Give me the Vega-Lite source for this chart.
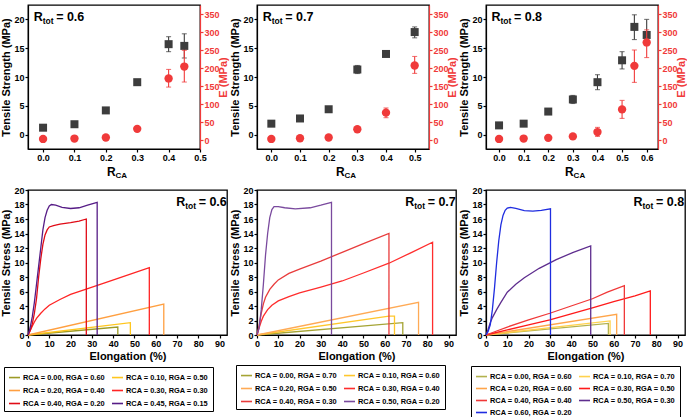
{
  "$schema": "https://vega.github.io/schema/vega-lite/v6.json",
  "background": "white",
  "padding": {"left": 0, "top": 4, "right": 0, "bottom": 0},
  "spacing": 4,
  "config": {
    "font": "Liberation Sans",
    "view": {"stroke": "black", "strokeWidth": 1.3},
    "axis": {
      "grid": false, "domainColor": "black", "domainWidth": 1.2,
      "tickColor": "black", "tickWidth": 1.2, "tickSize": 3,
      "labelFont": "Liberation Sans", "labelFontSize": 9, "labelFontWeight": "bold", "labelColor": "black", "labelPadding": 1,
      "labelFlush": false, "labelOverlap": false,
      "titleFont": "Liberation Sans", "titleFontSize": 11, "titleFontWeight": "bold", "titleColor": "black", "titlePadding": 2
    },
    "text": {"font": "Liberation Sans", "fontWeight": "bold", "color": "black"},
    "legend": {
      "labelFont": "Liberation Sans", "labelFontSize": 7.4, "labelFontWeight": "bold", "labelColor": "black",
      "symbolType": "stroke", "symbolSize": 121, "symbolStrokeWidth": 1.6,
      "strokeColor": "black", "padding": 4, "columnPadding": 2, "rowPadding": 3, "labelOffset": 2, "labelLimit": 0
    }
  },
  "datasets": {
    "m06": [
      {"rca": 0, "ts": 1.2, "tsLo": 1.0, "tsHi": 1.4, "e": 3, "eLo": 1, "eHi": 5},
      {"rca": 0.1, "ts": 1.8, "tsLo": 1.6, "tsHi": 2.0, "e": 4, "eLo": 2, "eHi": 6},
      {"rca": 0.2, "ts": 4.2, "tsLo": 4.0, "tsHi": 4.4, "e": 7, "eLo": 5, "eHi": 9},
      {"rca": 0.3, "ts": 9.1, "tsLo": 8.9, "tsHi": 9.3, "e": 31, "eLo": 28, "eHi": 34},
      {"rca": 0.4, "ts": 15.7, "tsLo": 14.4, "tsHi": 17.0, "e": 171, "eLo": 147, "eHi": 196},
      {"rca": 0.45, "ts": 15.4, "tsLo": 13.3, "tsHi": 17.5, "e": 204, "eLo": 161, "eHi": 249}
    ],
    "m07": [
      {"rca": 0, "ts": 1.9, "tsLo": 1.7, "tsHi": 2.1, "e": 3, "eLo": 1, "eHi": 5},
      {"rca": 0.1, "ts": 2.8, "tsLo": 2.6, "tsHi": 3.0, "e": 5, "eLo": 3, "eHi": 7},
      {"rca": 0.2, "ts": 4.4, "tsLo": 4.2, "tsHi": 4.6, "e": 7, "eLo": 5, "eHi": 9},
      {"rca": 0.3, "ts": 11.3, "tsLo": 10.6, "tsHi": 12.0, "e": 30, "eLo": 27, "eHi": 33},
      {"rca": 0.4, "ts": 14.0, "tsLo": 13.6, "tsHi": 14.5, "e": 76, "eLo": 62, "eHi": 89},
      {"rca": 0.5, "ts": 17.8, "tsLo": 16.8, "tsHi": 18.7, "e": 207, "eLo": 185, "eHi": 232}
    ],
    "m08": [
      {"rca": 0, "ts": 1.6, "tsLo": 1.4, "tsHi": 1.8, "e": 3, "eLo": 1, "eHi": 5},
      {"rca": 0.1, "ts": 1.9, "tsLo": 1.6, "tsHi": 2.2, "e": 4, "eLo": 2, "eHi": 6},
      {"rca": 0.2, "ts": 4.0, "tsLo": 3.8, "tsHi": 4.2, "e": 6, "eLo": 4, "eHi": 8},
      {"rca": 0.3, "ts": 6.1, "tsLo": 5.4, "tsHi": 6.8, "e": 10, "eLo": 5, "eHi": 15},
      {"rca": 0.4, "ts": 9.1, "tsLo": 7.8, "tsHi": 10.4, "e": 22, "eLo": 10, "eHi": 35},
      {"rca": 0.5, "ts": 12.9, "tsLo": 11.4, "tsHi": 14.4, "e": 85, "eLo": 60, "eHi": 110},
      {"rca": 0.55, "ts": 18.7, "tsLo": 16.5, "tsHi": 20.8, "e": 206, "eLo": 160, "eHi": 250},
      {"rca": 0.6, "ts": 17.3, "tsLo": 15.6, "tsHi": 20.0, "e": 271, "eLo": 229, "eHi": 306}
    ],
    "s06": [
      {"series": "0.00/0.60", "strain": 0, "stress": 0}, {"series": "0.00/0.60", "strain": 42.2, "stress": 1.1}, {"series": "0.00/0.60", "strain": 42.2, "stress": 0},
      {"series": "0.10/0.50", "strain": 0, "stress": 0}, {"series": "0.10/0.50", "strain": 48.1, "stress": 1.7}, {"series": "0.10/0.50", "strain": 48.1, "stress": 0},
      {"series": "0.20/0.40", "strain": 0, "stress": 0}, {"series": "0.20/0.40", "strain": 63.8, "stress": 4.25}, {"series": "0.20/0.40", "strain": 63.8, "stress": 0},
      {"series": "0.30/0.30", "strain": 0, "stress": 0}, {"series": "0.30/0.30", "strain": 1, "stress": 0.6}, {"series": "0.30/0.30", "strain": 2, "stress": 1.2},
      {"series": "0.30/0.30", "strain": 3, "stress": 1.8}, {"series": "0.30/0.30", "strain": 4, "stress": 2.3}, {"series": "0.30/0.30", "strain": 6, "stress": 3.0},
      {"series": "0.30/0.30", "strain": 8, "stress": 3.6}, {"series": "0.30/0.30", "strain": 10, "stress": 4.1}, {"series": "0.30/0.30", "strain": 15, "stress": 4.9},
      {"series": "0.30/0.30", "strain": 20, "stress": 5.6}, {"series": "0.30/0.30", "strain": 27, "stress": 6.3}, {"series": "0.30/0.30", "strain": 35, "stress": 7.1},
      {"series": "0.30/0.30", "strain": 45, "stress": 8.1}, {"series": "0.30/0.30", "strain": 57, "stress": 9.3}, {"series": "0.30/0.30", "strain": 57, "stress": 0},
      {"series": "0.40/0.20", "strain": 0, "stress": 0}, {"series": "0.40/0.20", "strain": 1, "stress": 0.6}, {"series": "0.40/0.20", "strain": 2, "stress": 1.5},
      {"series": "0.40/0.20", "strain": 3, "stress": 3.0}, {"series": "0.40/0.20", "strain": 4, "stress": 5.0}, {"series": "0.40/0.20", "strain": 5, "stress": 8.0},
      {"series": "0.40/0.20", "strain": 6, "stress": 10.5}, {"series": "0.40/0.20", "strain": 7, "stress": 12.5}, {"series": "0.40/0.20", "strain": 8, "stress": 13.8},
      {"series": "0.40/0.20", "strain": 9, "stress": 14.5}, {"series": "0.40/0.20", "strain": 10, "stress": 14.9}, {"series": "0.40/0.20", "strain": 12, "stress": 15.1},
      {"series": "0.40/0.20", "strain": 15, "stress": 15.3}, {"series": "0.40/0.20", "strain": 20, "stress": 15.5}, {"series": "0.40/0.20", "strain": 24, "stress": 15.7},
      {"series": "0.40/0.20", "strain": 27.4, "stress": 16.0}, {"series": "0.40/0.20", "strain": 27.4, "stress": 0},
      {"series": "0.45/0.15", "strain": 0, "stress": 0}, {"series": "0.45/0.15", "strain": 1, "stress": 1.0}, {"series": "0.45/0.15", "strain": 2, "stress": 2.5},
      {"series": "0.45/0.15", "strain": 3, "stress": 4.5}, {"series": "0.45/0.15", "strain": 4, "stress": 7.0}, {"series": "0.45/0.15", "strain": 5, "stress": 9.5},
      {"series": "0.45/0.15", "strain": 6, "stress": 12.0}, {"series": "0.45/0.15", "strain": 7, "stress": 14.5}, {"series": "0.45/0.15", "strain": 8, "stress": 16.2},
      {"series": "0.45/0.15", "strain": 9, "stress": 17.2}, {"series": "0.45/0.15", "strain": 10, "stress": 17.8}, {"series": "0.45/0.15", "strain": 11, "stress": 18.0},
      {"series": "0.45/0.15", "strain": 13, "stress": 17.9}, {"series": "0.45/0.15", "strain": 16, "stress": 17.6}, {"series": "0.45/0.15", "strain": 20, "stress": 17.45},
      {"series": "0.45/0.15", "strain": 24, "stress": 17.55}, {"series": "0.45/0.15", "strain": 28, "stress": 17.9}, {"series": "0.45/0.15", "strain": 32.5, "stress": 18.3},
      {"series": "0.45/0.15", "strain": 32.5, "stress": 0}
    ],
    "s07": [
      {"series": "0.00/0.70", "strain": 0, "stress": 0}, {"series": "0.00/0.70", "strain": 68.5, "stress": 1.7}, {"series": "0.00/0.70", "strain": 68.5, "stress": 0},
      {"series": "0.10/0.60", "strain": 0, "stress": 0}, {"series": "0.10/0.60", "strain": 62, "stress": 2.6}, {"series": "0.10/0.60", "strain": 64.6, "stress": 2.6}, {"series": "0.10/0.60", "strain": 64.6, "stress": 0},
      {"series": "0.20/0.50", "strain": 0, "stress": 0}, {"series": "0.20/0.50", "strain": 75.9, "stress": 4.5}, {"series": "0.20/0.50", "strain": 75.9, "stress": 0},
      {"series": "0.30/0.40", "strain": 0, "stress": 0}, {"series": "0.30/0.40", "strain": 1, "stress": 1.0}, {"series": "0.30/0.40", "strain": 2, "stress": 1.9},
      {"series": "0.30/0.40", "strain": 3, "stress": 2.6}, {"series": "0.30/0.40", "strain": 5, "stress": 3.5}, {"series": "0.30/0.40", "strain": 7, "stress": 4.1},
      {"series": "0.30/0.40", "strain": 10, "stress": 4.7}, {"series": "0.30/0.40", "strain": 15, "stress": 5.3}, {"series": "0.30/0.40", "strain": 20, "stress": 5.8},
      {"series": "0.30/0.40", "strain": 30, "stress": 6.6}, {"series": "0.30/0.40", "strain": 40, "stress": 7.45}, {"series": "0.30/0.40", "strain": 50, "stress": 8.55},
      {"series": "0.30/0.40", "strain": 62, "stress": 9.9}, {"series": "0.30/0.40", "strain": 72, "stress": 11.3}, {"series": "0.30/0.40", "strain": 82.5, "stress": 12.8},
      {"series": "0.30/0.40", "strain": 82.5, "stress": 0},
      {"series": "0.40/0.30", "strain": 0, "stress": 0}, {"series": "0.40/0.30", "strain": 1, "stress": 1.3}, {"series": "0.40/0.30", "strain": 2, "stress": 3.0},
      {"series": "0.40/0.30", "strain": 3, "stress": 4.3}, {"series": "0.40/0.30", "strain": 4, "stress": 5.2}, {"series": "0.40/0.30", "strain": 6, "stress": 6.3},
      {"series": "0.40/0.30", "strain": 8, "stress": 7.0}, {"series": "0.40/0.30", "strain": 10, "stress": 7.6}, {"series": "0.40/0.30", "strain": 15, "stress": 8.5},
      {"series": "0.40/0.30", "strain": 20, "stress": 9.1}, {"series": "0.40/0.30", "strain": 30, "stress": 10.2}, {"series": "0.40/0.30", "strain": 40, "stress": 11.4},
      {"series": "0.40/0.30", "strain": 50, "stress": 12.6}, {"series": "0.40/0.30", "strain": 62, "stress": 14.0}, {"series": "0.40/0.30", "strain": 62, "stress": 0},
      {"series": "0.50/0.20", "strain": 0, "stress": 0}, {"series": "0.50/0.20", "strain": 1, "stress": 1.0}, {"series": "0.50/0.20", "strain": 2, "stress": 3.5},
      {"series": "0.50/0.20", "strain": 3, "stress": 7.0}, {"series": "0.50/0.20", "strain": 4, "stress": 11.0}, {"series": "0.50/0.20", "strain": 5, "stress": 14.0},
      {"series": "0.50/0.20", "strain": 6, "stress": 16.2}, {"series": "0.50/0.20", "strain": 7, "stress": 17.3}, {"series": "0.50/0.20", "strain": 8, "stress": 17.7},
      {"series": "0.50/0.20", "strain": 10, "stress": 17.7}, {"series": "0.50/0.20", "strain": 13, "stress": 17.55}, {"series": "0.50/0.20", "strain": 18, "stress": 17.4},
      {"series": "0.50/0.20", "strain": 25, "stress": 17.55}, {"series": "0.50/0.20", "strain": 30, "stress": 17.9}, {"series": "0.50/0.20", "strain": 35, "stress": 18.3},
      {"series": "0.50/0.20", "strain": 35, "stress": 0}
    ],
    "s08": [
      {"series": "0.00/0.60", "strain": 0, "stress": 0}, {"series": "0.00/0.60", "strain": 57.5, "stress": 1.6}, {"series": "0.00/0.60", "strain": 57.5, "stress": 0},
      {"series": "0.10/0.70", "strain": 0, "stress": 0}, {"series": "0.10/0.70", "strain": 58.3, "stress": 1.95}, {"series": "0.10/0.70", "strain": 58.3, "stress": 0},
      {"series": "0.20/0.60", "strain": 0, "stress": 0}, {"series": "0.20/0.60", "strain": 61.4, "stress": 2.85}, {"series": "0.20/0.60", "strain": 61.4, "stress": 0},
      {"series": "0.30/0.50", "strain": 0, "stress": 0}, {"series": "0.30/0.50", "strain": 10, "stress": 0.7}, {"series": "0.30/0.50", "strain": 20, "stress": 1.4},
      {"series": "0.30/0.50", "strain": 30, "stress": 2.1}, {"series": "0.30/0.50", "strain": 40, "stress": 2.9}, {"series": "0.30/0.50", "strain": 50, "stress": 3.75},
      {"series": "0.30/0.50", "strain": 60, "stress": 4.6}, {"series": "0.30/0.50", "strain": 70, "stress": 5.4}, {"series": "0.30/0.50", "strain": 77.2, "stress": 6.1},
      {"series": "0.30/0.50", "strain": 77.2, "stress": 0},
      {"series": "0.40/0.40", "strain": 0, "stress": 0}, {"series": "0.40/0.40", "strain": 5, "stress": 0.55}, {"series": "0.40/0.40", "strain": 10, "stress": 1.1},
      {"series": "0.40/0.40", "strain": 20, "stress": 2.1}, {"series": "0.40/0.40", "strain": 30, "stress": 3.0}, {"series": "0.40/0.40", "strain": 40, "stress": 4.0},
      {"series": "0.40/0.40", "strain": 50, "stress": 5.0}, {"series": "0.40/0.40", "strain": 57, "stress": 5.9}, {"series": "0.40/0.40", "strain": 65, "stress": 6.8},
      {"series": "0.40/0.40", "strain": 65, "stress": 0},
      {"series": "0.50/0.30", "strain": 0, "stress": 0}, {"series": "0.50/0.30", "strain": 1, "stress": 0.8}, {"series": "0.50/0.30", "strain": 2, "stress": 1.7},
      {"series": "0.50/0.30", "strain": 3, "stress": 2.4}, {"series": "0.50/0.30", "strain": 5, "stress": 3.5}, {"series": "0.50/0.30", "strain": 7, "stress": 4.5},
      {"series": "0.50/0.30", "strain": 10, "stress": 5.9}, {"series": "0.50/0.30", "strain": 14, "stress": 7.0}, {"series": "0.50/0.30", "strain": 18, "stress": 7.9},
      {"series": "0.50/0.30", "strain": 25, "stress": 9.2}, {"series": "0.50/0.30", "strain": 33, "stress": 10.4}, {"series": "0.50/0.30", "strain": 41, "stress": 11.4},
      {"series": "0.50/0.30", "strain": 49.2, "stress": 12.3}, {"series": "0.50/0.30", "strain": 49.2, "stress": 0},
      {"series": "0.60/0.20", "strain": 0, "stress": 0}, {"series": "0.60/0.20", "strain": 1, "stress": 0.5}, {"series": "0.60/0.20", "strain": 2, "stress": 1.4},
      {"series": "0.60/0.20", "strain": 3, "stress": 3.5}, {"series": "0.60/0.20", "strain": 4, "stress": 6.5}, {"series": "0.60/0.20", "strain": 5, "stress": 10.0},
      {"series": "0.60/0.20", "strain": 6, "stress": 13.0}, {"series": "0.60/0.20", "strain": 7, "stress": 15.2}, {"series": "0.60/0.20", "strain": 8, "stress": 16.5},
      {"series": "0.60/0.20", "strain": 9, "stress": 17.2}, {"series": "0.60/0.20", "strain": 10, "stress": 17.5}, {"series": "0.60/0.20", "strain": 11.5, "stress": 17.6},
      {"series": "0.60/0.20", "strain": 14, "stress": 17.45}, {"series": "0.60/0.20", "strain": 18, "stress": 17.15}, {"series": "0.60/0.20", "strain": 22, "stress": 17.1},
      {"series": "0.60/0.20", "strain": 26, "stress": 17.2}, {"series": "0.60/0.20", "strain": 30.3, "stress": 17.4}, {"series": "0.60/0.20", "strain": 30.3, "stress": 0}
    ]
  },
  "vconcat": [
    {
      "hconcat": [
        {
          "width": 172, "height": 144,
          "data": {"name": "m06"},
          "layer": [
            {"layer": [
              {"mark": {"type": "rule", "color": "#3d3d3d", "strokeWidth": 1.1},
               "encoding": {"x": {"field": "rca", "type": "quantitative", "scale": {"domain": [-0.048, 0.5], "nice": false, "zero": false}, "axis": {"values": [0, 0.1, 0.2, 0.3, 0.4, 0.5], "tickCount": 30, "format": ".1f", "title": null}},
                            "y": {"field": "tsLo", "type": "quantitative", "scale": {"domain": [-2.5, 22.5], "nice": false, "zero": false}, "axis": {"values": [0, 5, 10, 15, 20], "tickCount": 30, "format": "d", "title": "Tensile Strength (MPa)"}}, "y2": {"field": "tsHi"}}},
              {"mark": {"type": "tick", "orient": "horizontal", "size": 5, "thickness": 1.1, "color": "#3d3d3d"},
               "encoding": {"x": {"field": "rca", "type": "quantitative"}, "y": {"field": "tsLo", "type": "quantitative"}}},
              {"mark": {"type": "tick", "orient": "horizontal", "size": 5, "thickness": 1.1, "color": "#3d3d3d"},
               "encoding": {"x": {"field": "rca", "type": "quantitative"}, "y": {"field": "tsHi", "type": "quantitative"}}},
              {"mark": {"type": "square", "size": 64, "color": "#3d3d3d", "opacity": 1},
               "encoding": {"x": {"field": "rca", "type": "quantitative"}, "y": {"field": "ts", "type": "quantitative"}}},
              {"data": {"values": [{}]}, "mark": {"type": "text", "text": "R", "align": "left", "baseline": "middle", "fontSize": 12.5},
               "encoding": {"x": {"datum": -0.03, "type": "quantitative"}, "y": {"datum": 20.5, "type": "quantitative"}}},
              {"data": {"values": [{}]}, "mark": {"type": "text", "text": "tot", "align": "left", "baseline": "middle", "fontSize": 8.5, "dx": 9, "dy": 4},
               "encoding": {"x": {"datum": -0.03, "type": "quantitative"}, "y": {"datum": 20.5, "type": "quantitative"}}},
              {"data": {"values": [{}]}, "mark": {"type": "text", "text": "= 0.6", "align": "left", "baseline": "middle", "fontSize": 12.5, "dx": 22.5},
               "encoding": {"x": {"datum": -0.03, "type": "quantitative"}, "y": {"datum": 20.5, "type": "quantitative"}}},
              {"data": {"values": [{}]}, "mark": {"type": "text", "text": "R", "align": "left", "baseline": "middle", "fontSize": 12, "dx": -7},
               "encoding": {"x": {"datum": 0.226, "type": "quantitative"}, "y": {"datum": -6.5, "type": "quantitative"}}},
              {"data": {"values": [{}]}, "mark": {"type": "text", "text": "CA", "align": "left", "baseline": "middle", "fontSize": 8, "dx": 1.5, "dy": 3.5},
               "encoding": {"x": {"datum": 0.226, "type": "quantitative"}, "y": {"datum": -6.5, "type": "quantitative"}}}
            ]},
            {"layer": [
              {"mark": {"type": "rule", "color": "#f03a3a", "strokeWidth": 1.1},
               "encoding": {"x": {"field": "rca", "type": "quantitative"},
                            "y": {"field": "eLo", "type": "quantitative", "scale": {"domain": [-25, 375], "nice": false, "zero": false}, "axis": {"orient": "right", "values": [0, 50, 100, 150, 200, 250, 300, 350], "tickCount": 30, "format": "d", "title": "E (MPa)", "titleAngle": -90, "titleBaseline": "top", "titlePadding": -2, "domainColor": "#f03a3a", "tickColor": "#f03a3a", "labelColor": "#f03a3a", "titleColor": "#f03a3a"}}, "y2": {"field": "eHi"}}},
              {"mark": {"type": "tick", "orient": "horizontal", "size": 5, "thickness": 1.1, "color": "#f03a3a"},
               "encoding": {"x": {"field": "rca", "type": "quantitative"}, "y": {"field": "eLo", "type": "quantitative"}}},
              {"mark": {"type": "tick", "orient": "horizontal", "size": 5, "thickness": 1.1, "color": "#f03a3a"},
               "encoding": {"x": {"field": "rca", "type": "quantitative"}, "y": {"field": "eHi", "type": "quantitative"}}},
              {"mark": {"type": "circle", "size": 70, "color": "#f03a3a", "opacity": 1},
               "encoding": {"x": {"field": "rca", "type": "quantitative"}, "y": {"field": "e", "type": "quantitative"}}}
            ]}
          ],
          "resolve": {"scale": {"y": "independent"}}
        },
        {
          "width": 172, "height": 144,
          "data": {"name": "m07"},
          "layer": [
            {"layer": [
              {"mark": {"type": "rule", "color": "#3d3d3d", "strokeWidth": 1.1},
               "encoding": {"x": {"field": "rca", "type": "quantitative", "scale": {"domain": [-0.05, 0.55], "nice": false, "zero": false}, "axis": {"values": [0, 0.1, 0.2, 0.3, 0.4, 0.5], "tickCount": 30, "format": ".1f", "title": null}},
                            "y": {"field": "tsLo", "type": "quantitative", "scale": {"domain": [-2.5, 22.5], "nice": false, "zero": false}, "axis": {"values": [0, 5, 10, 15, 20], "tickCount": 30, "format": "d", "title": "Tensile Strength (MPa)"}}, "y2": {"field": "tsHi"}}},
              {"mark": {"type": "tick", "orient": "horizontal", "size": 5, "thickness": 1.1, "color": "#3d3d3d"},
               "encoding": {"x": {"field": "rca", "type": "quantitative"}, "y": {"field": "tsLo", "type": "quantitative"}}},
              {"mark": {"type": "tick", "orient": "horizontal", "size": 5, "thickness": 1.1, "color": "#3d3d3d"},
               "encoding": {"x": {"field": "rca", "type": "quantitative"}, "y": {"field": "tsHi", "type": "quantitative"}}},
              {"mark": {"type": "square", "size": 64, "color": "#3d3d3d", "opacity": 1},
               "encoding": {"x": {"field": "rca", "type": "quantitative"}, "y": {"field": "ts", "type": "quantitative"}}},
              {"data": {"values": [{}]}, "mark": {"type": "text", "text": "R", "align": "left", "baseline": "middle", "fontSize": 12.5},
               "encoding": {"x": {"datum": -0.03, "type": "quantitative"}, "y": {"datum": 20.5, "type": "quantitative"}}},
              {"data": {"values": [{}]}, "mark": {"type": "text", "text": "tot", "align": "left", "baseline": "middle", "fontSize": 8.5, "dx": 9, "dy": 4},
               "encoding": {"x": {"datum": -0.03, "type": "quantitative"}, "y": {"datum": 20.5, "type": "quantitative"}}},
              {"data": {"values": [{}]}, "mark": {"type": "text", "text": "= 0.7", "align": "left", "baseline": "middle", "fontSize": 12.5, "dx": 22.5},
               "encoding": {"x": {"datum": -0.03, "type": "quantitative"}, "y": {"datum": 20.5, "type": "quantitative"}}},
              {"data": {"values": [{}]}, "mark": {"type": "text", "text": "R", "align": "left", "baseline": "middle", "fontSize": 12, "dx": -7},
               "encoding": {"x": {"datum": 0.25, "type": "quantitative"}, "y": {"datum": -6.5, "type": "quantitative"}}},
              {"data": {"values": [{}]}, "mark": {"type": "text", "text": "CA", "align": "left", "baseline": "middle", "fontSize": 8, "dx": 1.5, "dy": 3.5},
               "encoding": {"x": {"datum": 0.25, "type": "quantitative"}, "y": {"datum": -6.5, "type": "quantitative"}}}
            ]},
            {"layer": [
              {"mark": {"type": "rule", "color": "#f03a3a", "strokeWidth": 1.1},
               "encoding": {"x": {"field": "rca", "type": "quantitative"},
                            "y": {"field": "eLo", "type": "quantitative", "scale": {"domain": [-25, 375], "nice": false, "zero": false}, "axis": {"orient": "right", "values": [0, 50, 100, 150, 200, 250, 300, 350], "tickCount": 30, "format": "d", "title": "E (MPa)", "titleAngle": -90, "titleBaseline": "top", "titlePadding": -2, "domainColor": "#f03a3a", "tickColor": "#f03a3a", "labelColor": "#f03a3a", "titleColor": "#f03a3a"}}, "y2": {"field": "eHi"}}},
              {"mark": {"type": "tick", "orient": "horizontal", "size": 5, "thickness": 1.1, "color": "#f03a3a"},
               "encoding": {"x": {"field": "rca", "type": "quantitative"}, "y": {"field": "eLo", "type": "quantitative"}}},
              {"mark": {"type": "tick", "orient": "horizontal", "size": 5, "thickness": 1.1, "color": "#f03a3a"},
               "encoding": {"x": {"field": "rca", "type": "quantitative"}, "y": {"field": "eHi", "type": "quantitative"}}},
              {"mark": {"type": "circle", "size": 70, "color": "#f03a3a", "opacity": 1},
               "encoding": {"x": {"field": "rca", "type": "quantitative"}, "y": {"field": "e", "type": "quantitative"}}}
            ]}
          ],
          "resolve": {"scale": {"y": "independent"}}
        },
        {
          "width": 172, "height": 144,
          "data": {"name": "m08"},
          "layer": [
            {"layer": [
              {"mark": {"type": "rule", "color": "#3d3d3d", "strokeWidth": 1.1},
               "encoding": {"x": {"field": "rca", "type": "quantitative", "scale": {"domain": [-0.053, 0.646], "nice": false, "zero": false}, "axis": {"values": [0, 0.1, 0.2, 0.3, 0.4, 0.5, 0.6], "tickCount": 30, "format": ".1f", "title": null}},
                            "y": {"field": "tsLo", "type": "quantitative", "scale": {"domain": [-2.5, 22.5], "nice": false, "zero": false}, "axis": {"values": [0, 5, 10, 15, 20], "tickCount": 30, "format": "d", "title": "Tensile Strength (MPa)"}}, "y2": {"field": "tsHi"}}},
              {"mark": {"type": "tick", "orient": "horizontal", "size": 5, "thickness": 1.1, "color": "#3d3d3d"},
               "encoding": {"x": {"field": "rca", "type": "quantitative"}, "y": {"field": "tsLo", "type": "quantitative"}}},
              {"mark": {"type": "tick", "orient": "horizontal", "size": 5, "thickness": 1.1, "color": "#3d3d3d"},
               "encoding": {"x": {"field": "rca", "type": "quantitative"}, "y": {"field": "tsHi", "type": "quantitative"}}},
              {"mark": {"type": "square", "size": 64, "color": "#3d3d3d", "opacity": 1},
               "encoding": {"x": {"field": "rca", "type": "quantitative"}, "y": {"field": "ts", "type": "quantitative"}}},
              {"data": {"values": [{}]}, "mark": {"type": "text", "text": "R", "align": "left", "baseline": "middle", "fontSize": 12.5},
               "encoding": {"x": {"datum": -0.031, "type": "quantitative"}, "y": {"datum": 20.5, "type": "quantitative"}}},
              {"data": {"values": [{}]}, "mark": {"type": "text", "text": "tot", "align": "left", "baseline": "middle", "fontSize": 8.5, "dx": 9, "dy": 4},
               "encoding": {"x": {"datum": -0.031, "type": "quantitative"}, "y": {"datum": 20.5, "type": "quantitative"}}},
              {"data": {"values": [{}]}, "mark": {"type": "text", "text": "= 0.8", "align": "left", "baseline": "middle", "fontSize": 12.5, "dx": 22.5},
               "encoding": {"x": {"datum": -0.031, "type": "quantitative"}, "y": {"datum": 20.5, "type": "quantitative"}}},
              {"data": {"values": [{}]}, "mark": {"type": "text", "text": "R", "align": "left", "baseline": "middle", "fontSize": 12, "dx": -7},
               "encoding": {"x": {"datum": 0.297, "type": "quantitative"}, "y": {"datum": -6.5, "type": "quantitative"}}},
              {"data": {"values": [{}]}, "mark": {"type": "text", "text": "CA", "align": "left", "baseline": "middle", "fontSize": 8, "dx": 1.5, "dy": 3.5},
               "encoding": {"x": {"datum": 0.297, "type": "quantitative"}, "y": {"datum": -6.5, "type": "quantitative"}}}
            ]},
            {"layer": [
              {"mark": {"type": "rule", "color": "#f03a3a", "strokeWidth": 1.1},
               "encoding": {"x": {"field": "rca", "type": "quantitative"},
                            "y": {"field": "eLo", "type": "quantitative", "scale": {"domain": [-25, 375], "nice": false, "zero": false}, "axis": {"orient": "right", "values": [0, 50, 100, 150, 200, 250, 300, 350], "tickCount": 30, "format": "d", "title": "E (MPa)", "titleAngle": -90, "titleBaseline": "top", "titlePadding": -2, "domainColor": "#f03a3a", "tickColor": "#f03a3a", "labelColor": "#f03a3a", "titleColor": "#f03a3a"}}, "y2": {"field": "eHi"}}},
              {"mark": {"type": "tick", "orient": "horizontal", "size": 5, "thickness": 1.1, "color": "#f03a3a"},
               "encoding": {"x": {"field": "rca", "type": "quantitative"}, "y": {"field": "eLo", "type": "quantitative"}}},
              {"mark": {"type": "tick", "orient": "horizontal", "size": 5, "thickness": 1.1, "color": "#f03a3a"},
               "encoding": {"x": {"field": "rca", "type": "quantitative"}, "y": {"field": "eHi", "type": "quantitative"}}},
              {"mark": {"type": "circle", "size": 70, "color": "#f03a3a", "opacity": 1},
               "encoding": {"x": {"field": "rca", "type": "quantitative"}, "y": {"field": "e", "type": "quantitative"}}}
            ]}
          ],
          "resolve": {"scale": {"y": "independent"}}
        }
      ],
      "spacing": 0
    },
    {
      "hconcat": [
        {
          "width": 199, "height": 145,
          "layer": [
            {"data": {"name": "s06"},
             "mark": {"type": "line", "strokeWidth": 1.3},
             "encoding": {
               "x": {"field": "strain", "type": "quantitative", "scale": {"domain": [0, 93.5], "nice": false}, "axis": {"values": [0, 10, 20, 30, 40, 50, 60, 70, 80, 90], "tickCount": 30, "format": "d", "title": "Elongation (%)"}},
               "y": {"field": "stress", "type": "quantitative", "scale": {"domain": [0, 20], "nice": false}, "axis": {"values": [0, 2, 4, 6, 8, 10, 12, 14, 16, 18, 20], "tickCount": 30, "format": "d", "title": "Tensile Stress (MPa)"}},
               "color": {"field": "series", "type": "nominal",
                         "scale": {"domain": ["0.00/0.60", "0.20/0.40", "0.40/0.20", "0.10/0.50", "0.30/0.30", "0.45/0.15"],
                                   "range": ["#9c9a26", "#ff9f40", "#e00b16", "#ffc61e", "#ff2424", "#561c86"]},
                         "legend": {"orient": "none", "legendX": -24, "legendY": 177, "columns": 2, "title": null,
                                    "labelExpr": "'RCA = ' + split(datum.label, '/')[0] + ', RGA = ' + split(datum.label, '/')[1]"}},
               "order": {"value": null}
             }},
            {"data": {"values": [{}]}, "mark": {"type": "text", "text": "R", "align": "left", "baseline": "middle", "fontSize": 12.5},
             "encoding": {"x": {"datum": 69.6, "type": "quantitative"}, "y": {"datum": 18.4, "type": "quantitative"}}},
            {"data": {"values": [{}]}, "mark": {"type": "text", "text": "tot", "align": "left", "baseline": "middle", "fontSize": 8.5, "dx": 9, "dy": 4},
             "encoding": {"x": {"datum": 69.6, "type": "quantitative"}, "y": {"datum": 18.4, "type": "quantitative"}}},
            {"data": {"values": [{}]}, "mark": {"type": "text", "text": "= 0.6", "align": "left", "baseline": "middle", "fontSize": 12.5, "dx": 22.5},
             "encoding": {"x": {"datum": 69.6, "type": "quantitative"}, "y": {"datum": 18.4, "type": "quantitative"}}}
          ]
        },
        {
          "width": 199, "height": 145,
          "layer": [
            {"data": {"name": "s07"},
             "mark": {"type": "line", "strokeWidth": 1.3},
             "encoding": {
               "x": {"field": "strain", "type": "quantitative", "scale": {"domain": [0, 93.5], "nice": false}, "axis": {"values": [0, 10, 20, 30, 40, 50, 60, 70, 80, 90], "tickCount": 30, "format": "d", "title": "Elongation (%)"}},
               "y": {"field": "stress", "type": "quantitative", "scale": {"domain": [0, 20], "nice": false}, "axis": {"values": [0, 2, 4, 6, 8, 10, 12, 14, 16, 18, 20], "tickCount": 30, "format": "d", "title": "Tensile Stress (MPa)"}},
               "color": {"field": "series", "type": "nominal",
                         "scale": {"domain": ["0.00/0.70", "0.20/0.50", "0.40/0.30", "0.10/0.60", "0.30/0.40", "0.50/0.20"],
                                   "range": ["#a5a435", "#ffaa55", "#e83c3c", "#ffc72c", "#ff2d2d", "#7a4a9e"]},
                         "legend": {"orient": "none", "legendX": -21, "legendY": 175, "columns": 2, "title": null,
                                    "labelExpr": "'RCA = ' + split(datum.label, '/')[0] + ', RGA = ' + split(datum.label, '/')[1]"}},
               "order": {"value": null}
             }},
            {"data": {"values": [{}]}, "mark": {"type": "text", "text": "R", "align": "left", "baseline": "middle", "fontSize": 12.5},
             "encoding": {"x": {"datum": 69.6, "type": "quantitative"}, "y": {"datum": 18.4, "type": "quantitative"}}},
            {"data": {"values": [{}]}, "mark": {"type": "text", "text": "tot", "align": "left", "baseline": "middle", "fontSize": 8.5, "dx": 9, "dy": 4},
             "encoding": {"x": {"datum": 69.6, "type": "quantitative"}, "y": {"datum": 18.4, "type": "quantitative"}}},
            {"data": {"values": [{}]}, "mark": {"type": "text", "text": "= 0.7", "align": "left", "baseline": "middle", "fontSize": 12.5, "dx": 22.5},
             "encoding": {"x": {"datum": 69.6, "type": "quantitative"}, "y": {"datum": 18.4, "type": "quantitative"}}}
          ]
        },
        {
          "width": 199, "height": 145,
          "layer": [
            {"data": {"name": "s08"},
             "mark": {"type": "line", "strokeWidth": 1.3},
             "encoding": {
               "x": {"field": "strain", "type": "quantitative", "scale": {"domain": [0, 93.5], "nice": false}, "axis": {"values": [0, 10, 20, 30, 40, 50, 60, 70, 80, 90], "tickCount": 30, "format": "d", "title": "Elongation (%)"}},
               "y": {"field": "stress", "type": "quantitative", "scale": {"domain": [0, 20], "nice": false}, "axis": {"values": [0, 2, 4, 6, 8, 10, 12, 14, 16, 18, 20], "tickCount": 30, "format": "d", "title": "Tensile Stress (MPa)"}},
               "color": {"field": "series", "type": "nominal",
                         "scale": {"domain": ["0.00/0.60", "0.20/0.60", "0.40/0.40", "0.60/0.20", "0.10/0.70", "0.30/0.50", "0.50/0.30"],
                                   "range": ["#b3b24e", "#ffa54a", "#f03838", "#1f2de0", "#ffd24d", "#ff1a1a", "#5e2d8e"]},
                         "legend": {"orient": "none", "legendX": -15, "legendY": 176, "columns": 2, "title": null, "rowPadding": 2,
                                    "labelExpr": "'RCA = ' + split(datum.label, '/')[0] + ', RGA = ' + split(datum.label, '/')[1]"}},
               "order": {"value": null}
             }},
            {"data": {"values": [{}]}, "mark": {"type": "text", "text": "R", "align": "left", "baseline": "middle", "fontSize": 12.5},
             "encoding": {"x": {"datum": 69.3, "type": "quantitative"}, "y": {"datum": 18.4, "type": "quantitative"}}},
            {"data": {"values": [{}]}, "mark": {"type": "text", "text": "tot", "align": "left", "baseline": "middle", "fontSize": 8.5, "dx": 9, "dy": 4},
             "encoding": {"x": {"datum": 69.3, "type": "quantitative"}, "y": {"datum": 18.4, "type": "quantitative"}}},
            {"data": {"values": [{}]}, "mark": {"type": "text", "text": "= 0.8", "align": "left", "baseline": "middle", "fontSize": 12.5, "dx": 22.5},
             "encoding": {"x": {"datum": 69.3, "type": "quantitative"}, "y": {"datum": 18.4, "type": "quantitative"}}}
          ]
        }
      ],
      "spacing": 1,
      "resolve": {"scale": {"color": "independent"}, "legend": {"color": "independent"}}
    }
  ]
}
